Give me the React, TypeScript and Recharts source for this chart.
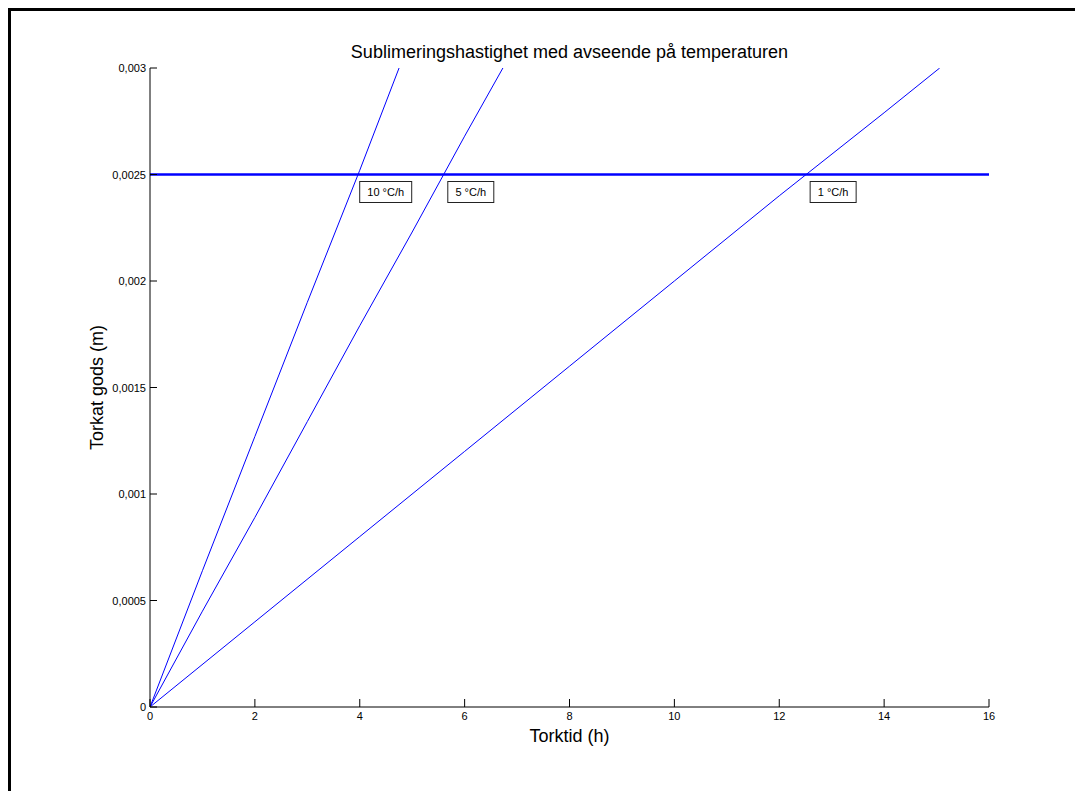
import React from 'react';
import {
  LineChart, Line, XAxis, YAxis, ReferenceLine, ReferenceDot,
} from 'recharts';

// drying time (h) vs dried layer (m), one series per ramp rate
const tenRateX = [0, 1, 2, 3, 4, 4.75];
const tenRateY = [0, 0.00064, 0.00127, 0.0019, 0.00252, 0.003];
const fiveRateX = [0, 1, 2, 3, 4, 5, 6, 6.73];
const fiveRateY = [0, 0.00045, 0.00089, 0.00134, 0.00179, 0.00223, 0.00268, 0.003];
const oneRateX = [0, 2, 4, 6, 8, 10, 12, 14, 15.06];
const oneRateY = [0, 0.0004, 0.0008, 0.0012, 0.0016, 0.002, 0.0024, 0.00279, 0.003];

const limitLevel = 0.0025;
const xTicks = [0, 2, 4, 6, 8, 10, 12, 14, 16];
const yTicks = [0, 0.0005, 0.001, 0.0015, 0.002, 0.0025, 0.003];

// tag names and where they sit along the limit line
const tagNames = ['10 °C/h', '5 °C/h', '1 °C/h'];
const tagX = [3.98, 5.66, 12.57];

const toPoints = (xs: number[], ys: number[]) => xs.map((x, i) => ({ x, y: ys[i] }));

const W = 1075;
const H = 783;
const M = { top: 60, right: 94, bottom: 54, left: 82 };
const Y_W = 60;
const X_H = 30;
const PLOT_LEFT = M.left + Y_W;
const PLOT_BOTTOM = H - M.bottom - X_H;
const FONT = '"Liberation Sans", Arial, sans-serif';

const fmt = (v: number) => String(v).replace('.', ',');

// eslint-disable-next-line @typescript-eslint/no-explicit-any
function YTick(props: any) {
  const { y, payload } = props;
  return (
    <g>
      <line x1={PLOT_LEFT} x2={PLOT_LEFT + 7} y1={y} y2={y} stroke="#000" strokeWidth={1} />
      <text x={PLOT_LEFT - 4} y={y} dy={4} textAnchor="end" fontSize={11} fill="#000" fontFamily={FONT}>
        {fmt(payload.value)}
      </text>
    </g>
  );
}

// eslint-disable-next-line @typescript-eslint/no-explicit-any
function XTick(props: any) {
  const { x, payload } = props;
  return (
    <g>
      <line x1={x} x2={x} y1={PLOT_BOTTOM} y2={PLOT_BOTTOM - 8} stroke="#000" strokeWidth={1} />
      <text x={x} y={PLOT_BOTTOM} dy={13} textAnchor="middle" fontSize={11} fill="#000" fontFamily={FONT}>
        {fmt(payload.value)}
      </text>
    </g>
  );
}

function tagShape(name: string) {
  // eslint-disable-next-line @typescript-eslint/no-explicit-any
  return (props: any) => {
    const { cx, cy } = props;
    const w = name.length * 6 + 10;
    const h = 21;
    const bx = cx + 1;
    const by = cy + 7;
    return (
      <g>
        <rect x={bx} y={by} width={w} height={h} fill="#fff" stroke="#222" strokeWidth={1} />
        <text x={bx + w / 2} y={by + h / 2 + 4} textAnchor="middle" fontSize={11} fill="#000" fontFamily={FONT}>
          {name}
        </text>
      </g>
    );
  };
}

export default function App() {
  const series = [
    toPoints(tenRateX, tenRateY),
    toPoints(fiveRateX, fiveRateY),
    toPoints(oneRateX, oneRateY),
  ];
  const midX = (PLOT_LEFT + W - M.right) / 2;
  const midY = (M.top + PLOT_BOTTOM) / 2;

  return (
    <div style={{ position: 'relative', width: W, height: H, background: '#fff' }}>
      <style>{'html,body{overflow:hidden}'}</style>
      <LineChart width={W} height={H} margin={M}>
        <XAxis
          type="number"
          dataKey="x"
          domain={[0, 16]}
          ticks={xTicks}
          height={X_H}
          axisLine={{ stroke: '#000', strokeWidth: 1 }}
          tickLine={false}
          tick={<XTick />}
          allowDataOverflow
        />
        <YAxis
          type="number"
          dataKey="y"
          domain={[0, 0.003]}
          ticks={yTicks}
          width={Y_W}
          axisLine={{ stroke: '#000', strokeWidth: 1 }}
          tickLine={false}
          tick={<YTick />}
          allowDataOverflow
        />
        <ReferenceLine y={limitLevel} stroke="#0000ff" strokeWidth={2.5} />
        {series.map((pts, i) => (
          <Line
            key={i}
            data={pts}
            dataKey="y"
            type="linear"
            stroke="#0000ff"
            strokeWidth={1}
            dot={false}
            isAnimationActive={false}
          />
        ))}
        {tagNames.map((name, i) => (
          <ReferenceDot key={name} x={tagX[i]} y={limitLevel} r={0} shape={tagShape(name)} />
        ))}
        <text x={midX} y={50} textAnchor="middle" fontSize={18} fill="#000" fontFamily={FONT}>
          Sublimeringshastighet med avseende på temperaturen
        </text>
        <text x={midX} y={734} textAnchor="middle" fontSize={18} fill="#000" fontFamily={FONT}>
          Torktid (h)
        </text>
        <text
          x={95}
          y={midY}
          transform={`rotate(-90 95 ${midY})`}
          textAnchor="middle"
          fontSize={18}
          fill="#000"
          fontFamily={FONT}
        >
          Torkat gods (m)
        </text>
      </LineChart>
      <div
        style={{
          position: 'absolute', left: 0, top: 0, width: W + 40, height: H + 40,
          borderTop: '3px solid #000', borderLeft: '3px solid #000',
          boxSizing: 'border-box', pointerEvents: 'none',
        }}
      />
    </div>
  );
}
